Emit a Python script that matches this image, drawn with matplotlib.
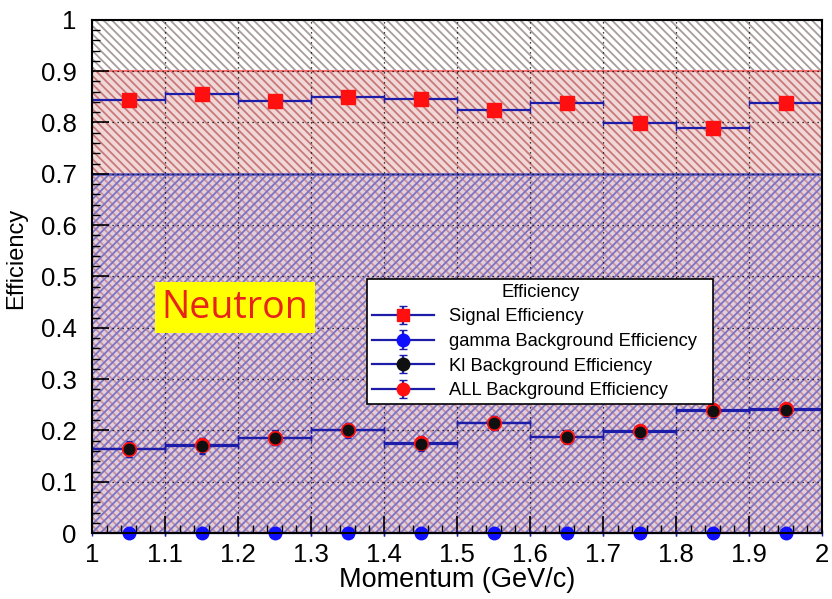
import numpy as np
import matplotlib
matplotlib.use("Agg")
import matplotlib.pyplot as plt
from matplotlib.ticker import MultipleLocator

# ---- data ----
bin_edges = [1.0, 1.1, 1.2, 1.3, 1.4, 1.5, 1.6, 1.7, 1.8, 1.9, 2.0]
signal_eff = [0.843, 0.856, 0.842, 0.850, 0.846, 0.825, 0.838, 0.798, 0.790, 0.838]
signal_err = [0.010, 0.010, 0.010, 0.010, 0.010, 0.010, 0.010, 0.010, 0.010, 0.010]
gamma_eff = [0.0, 0.0, 0.0, 0.0, 0.0, 0.0, 0.0, 0.0, 0.0, 0.0]
gamma_err = [0.0, 0.0, 0.0, 0.0, 0.0, 0.0, 0.0, 0.0, 0.0, 0.0]
kl_eff = [0.163, 0.170, 0.185, 0.200, 0.174, 0.214, 0.187, 0.197, 0.238, 0.240]
kl_err = [0.015, 0.015, 0.014, 0.014, 0.014, 0.014, 0.013, 0.013, 0.013, 0.013]
all_eff = [0.164, 0.171, 0.186, 0.201, 0.175, 0.215, 0.188, 0.198, 0.239, 0.241]
all_err = [0.015, 0.015, 0.014, 0.014, 0.014, 0.014, 0.013, 0.013, 0.013, 0.013]
bands = [(0.0, 1.0), (0.0, 0.9), (0.0, 0.7)]
labels = ["Signal Efficiency", "gamma Background Efficiency",
          "Kl Background Efficiency", "ALL Background Efficiency"]

plt.rcParams['font.family'] = ['Liberation Sans', 'DejaVu Sans']
plt.rcParams['hatch.linewidth'] = 1.3

edges = np.array(bin_edges)
xc = (edges[:-1] + edges[1:]) / 2
xw = (edges[1:] - edges[:-1]) / 2

fig = plt.figure(figsize=(8.32, 5.99), dpi=100)
ax = fig.add_axes([0.1106, 0.110, 0.8774, 0.857])

# hatched background bands
ax.axhspan(*bands[0], facecolor='white', edgecolor='#a89c9c', hatch='\\\\\\\\', linewidth=0, zorder=0)
ax.axhspan(*bands[1], facecolor='#f0d8d8', edgecolor='#c87878', hatch='\\\\\\\\', linewidth=0, zorder=0.1)
ax.axhspan(*bands[2], facecolor='none', edgecolor='#7c72c4', hatch='////', linewidth=0, zorder=0.2)
ax.axhspan(*bands[2], facecolor='#c8c0e4', edgecolor='none', alpha=0.35, linewidth=0, zorder=0.15)
ax.axhline(bands[1][1], color='#f07070', lw=1.5, zorder=0.5)
ax.axhline(bands[2][1], color='#5050c0', lw=1.8, zorder=0.5)

ax.grid(True, which='major', color='black', linestyle=(0, (1, 3)), lw=0.9, zorder=0.6)

line_col = '#1c1ca8'
common = dict(ls='none', ecolor=line_col, elinewidth=1.6, capsize=2, zorder=3)
h_sig = ax.errorbar(xc, signal_eff, xerr=xw, yerr=signal_err, marker='s', ms=10,
                    mfc='#ff1010', mec='#ff1010', **common)
h_gam = ax.errorbar(xc, gamma_eff, xerr=xw, yerr=gamma_err, marker='o', ms=9,
                    mfc='#1010ff', mec='#1010ff', clip_on=False, **common)
h_all = ax.errorbar(xc, all_eff, xerr=xw, yerr=all_err, marker='o', ms=10,
                    mfc='#ff1010', mec='#ff1010', **common)
h_kl = ax.errorbar(xc, kl_eff, xerr=xw, yerr=kl_err, marker='o', ms=7.5,
                   mfc='#101010', mec='#101010', **common)
for art in h_gam.lines[2]:
    art.set_clip_on(False)
h_gam.lines[0].set_clip_on(False)

# legend proxies (line through marker, small vertical error bar)
proxy_specs = [('s', '#ff1010'), ('o', '#1010ff'), ('o', '#101010'), ('o', '#ff1010')]
proxies = []
for mk, colr in proxy_specs:
    p = ax.errorbar([np.nan], [np.nan], yerr=[0.01], fmt='-', color=line_col, lw=1.6,
                    marker=mk, ms=9, mfc=colr, mec=colr, ecolor=line_col, capsize=3)
    proxies.append(p)

ax.set_xlim(1, 2)
ax.set_ylim(0, 1)
ax.xaxis.set_major_locator(MultipleLocator(0.1))
ax.xaxis.set_minor_locator(MultipleLocator(0.02))
ax.yaxis.set_major_locator(MultipleLocator(0.1))
ax.yaxis.set_minor_locator(MultipleLocator(0.02))
ax.xaxis.set_major_formatter(plt.FuncFormatter(lambda v, p: f"{v:g}"))
ax.yaxis.set_major_formatter(plt.FuncFormatter(lambda v, p: f"{v:g}"))
ax.tick_params(which='both', direction='in', colors='black', labelsize=18.5)
ax.tick_params(which='major', length=12, width=1.2)
ax.tick_params(which='minor', length=6, width=1.0)
ax.tick_params(axis='x', pad=7)
ax.tick_params(axis='y', pad=11)
for s in ax.spines.values():
    s.set_linewidth(1.5)
    s.set_zorder(5)

ax.set_xlabel("Momentum (GeV/c)", fontsize=19.5, labelpad=0)
ax.set_ylabel("Efficiency", fontsize=17)
ax.yaxis.set_label_coords(-0.089, 0.536)

ax.text(1.196, 0.439, "Neutron", fontsize=27, color='#e8231a', ha='center', va='center',
        family=['Open Sans', 'DejaVu Sans'],
        bbox=dict(boxstyle='square,pad=0.17', facecolor='#ffff00', edgecolor='none'), zorder=6)

leg = ax.legend(proxies, labels, title="Efficiency",
                loc='upper left', bbox_to_anchor=(0.377, 0.249, 0.474, 0.246),
                mode='expand', fontsize=13.2, title_fontsize=13.2,
                frameon=True, fancybox=False, framealpha=1, edgecolor='black',
                handlelength=3.4, handletextpad=0.8, labelspacing=0.42,
                borderaxespad=0, borderpad=0.25)
leg.get_frame().set_linewidth(1.2)
leg.set_zorder(7)

fig.savefig("out.png", dpi=100)
